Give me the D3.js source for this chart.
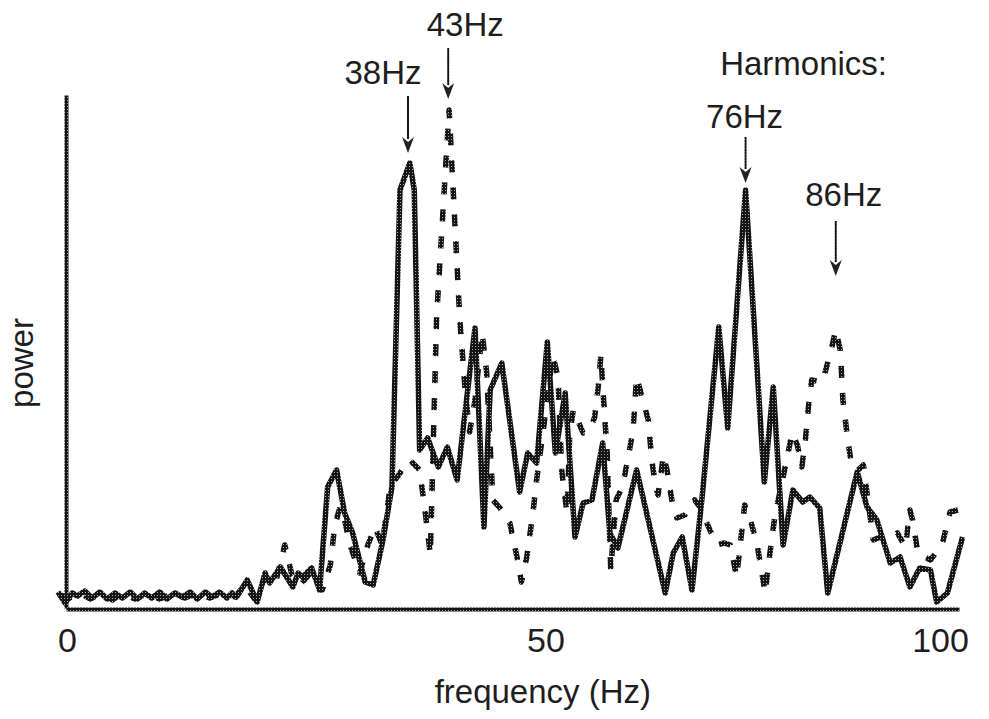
<!DOCTYPE html>
<html>
<head>
<meta charset="utf-8">
<script src="https://cdn.jsdelivr.net/npm/d3@7"></script>
<style>
  body { margin: 0; background: #fff; }
  svg { display: block; }
  text { font-family: "Liberation Sans", Arial, Helvetica, sans-serif; fill: #1e1e1e; }
</style>
</head>
<body>
<svg id="chart" width="989" height="719"></svg>
<script>
// spectrum: frequency (Hz) and power (arbitrary units)
let solidFreq = [
    -0.9, -0.1, 0.7, 1.3, 2.1, 2.9, 3.8, 4.6, 5.5, 6.3,
    7.2, 8.0, 8.8, 9.6, 10.5, 11.3, 12.2, 13.0, 13.9, 14.7,
    15.6, 16.3, 17.2, 18.0, 18.6, 19.1, 20.3, 21.4, 22.3, 22.8,
    24.0, 25.4, 26.0, 26.5, 27.5, 28.4, 29.3, 30.3, 31.2, 32.1,
    33.5, 34.4, 35.5, 36.5, 37.4, 38.5, 39.0, 39.6, 40.5, 41.7,
    42.7, 43.8, 45.8, 46.8, 47.5, 48.8, 50.8, 51.7, 52.7, 53.9,
    54.8, 55.9, 57.0, 57.9, 58.9, 60.1, 60.9, 61.8, 63.9, 67.1,
    68.0, 69.0, 70.1, 71.2, 73.1, 74.1, 76.1, 78.2, 79.2, 80.3,
    81.4, 82.5, 83.3, 84.4, 85.3, 88.6, 89.7, 90.8, 92.3, 93.4,
    94.5, 95.6, 96.8, 97.5, 98.7, 100.4
];
let solidPower = [
    3.2, 1.0, 3.0, 2.4, 3.4, 2.0, 3.2, 1.8, 3.0, 2.0,
    3.2, 1.8, 3.0, 2.0, 3.2, 1.8, 3.0, 2.2, 3.2, 1.8,
    3.2, 2.2, 3.2, 2.0, 3.0, 2.2, 5.6, 1.2, 7.0, 5.0,
    8.2, 4.2, 7.0, 6.2, 8.0, 3.6, 24.2, 27.6, 19.0, 15.0,
    5.2, 4.6, 13.6, 24.2, 83.6, 89.0, 83.6, 31.6, 34.0, 28.2,
    32.2, 25.6, 56.0, 16.2, 43.6, 49.0, 23.2, 31.0, 29.0, 53.2,
    31.0, 43.0, 14.2, 21.0, 21.6, 33.0, 15.0, 12.0, 27.6, 3.0,
    11.0, 14.2, 3.6, 21.6, 56.2, 36.0, 83.6, 25.2, 44.2, 12.6,
    23.6, 21.2, 22.2, 20.0, 3.0, 27.2, 20.2, 17.6, 9.0, 10.2,
    4.2, 8.0, 7.6, 1.2, 3.0, 14.2
];

let dashFreq = [
    -0.7, 0.4, 1.6, 2.7, 3.8, 5.2, 6.3, 7.7, 9.2, 10.5,
    11.9, 13.3, 14.8, 16.1, 17.5, 18.9, 20.0, 21.2, 22.3, 23.4,
    24.5, 25.3, 26.2, 27.5, 28.7, 29.6, 30.1, 30.7, 31.2, 31.8,
    32.9, 33.8, 34.6, 35.4, 36.3, 37.4, 38.5, 39.6, 40.2, 40.8,
    41.5, 42.9, 44.1, 44.7, 45.2, 45.8, 46.6, 47.1, 47.8, 48.6,
    49.7, 50.5, 51.0, 51.6, 52.3, 52.7, 53.6, 54.5, 55.1, 55.5,
    56.1, 56.4, 56.8, 57.3, 57.9, 58.7, 59.2, 59.6, 59.9, 60.2,
    60.6, 61.0, 61.6, 62.3, 62.9, 63.5, 63.9, 64.5, 65.2, 65.6,
    66.0, 66.3, 66.9, 67.3, 67.9, 68.4, 69.3, 70.4, 71.0, 72.1,
    72.9, 73.7, 74.4, 75.1, 75.5, 76.0, 76.8, 77.4, 78.3, 78.8,
    79.4, 80.0, 80.7, 81.3, 81.9, 82.4, 82.8, 83.1, 83.5, 84.7,
    85.6, 86.2, 86.7, 87.0, 87.5, 88.0, 88.7, 89.3, 89.8, 90.4,
    91.2, 92.3, 93.1, 94.0, 94.5, 94.8, 95.4, 96.8, 98.1, 99.0,
    99.9, 100.7
];
let dashPower = [
    2.6, 2.0, 3.0, 1.8, 2.8, 1.6, 3.0, 1.8, 2.8, 1.8,
    2.8, 2.0, 3.0, 2.0, 3.0, 2.2, 4.6, 1.6, 6.2, 4.6,
    12.6, 6.6, 4.6, 7.2, 3.6, 8.6, 16.6, 20.2, 17.6, 12.6,
    7.0, 12.6, 16.2, 12.6, 24.2, 27.0, 29.6, 27.6, 19.6, 10.6,
    58.2, 99.6, 57.6, 43.6, 35.2, 41.6, 55.0, 47.2, 21.6, 20.0,
    17.0, 10.2, 5.2, 10.2, 19.2, 25.6, 37.6, 50.6, 46.2, 27.6,
    19.0, 34.2, 39.6, 37.6, 35.0, 35.6, 38.2, 44.2, 50.6, 41.6,
    31.0, 7.6, 21.6, 24.2, 29.6, 35.6, 46.2, 42.2, 37.6, 29.6,
    24.6, 22.6, 30.6, 27.6, 21.0, 18.0, 18.6, 21.6, 20.2, 15.6,
    12.6, 13.0, 12.6, 6.2, 12.6, 20.6, 16.6, 12.6, 3.0, 10.6,
    18.6, 23.6, 29.6, 35.0, 32.6, 28.2, 33.6, 39.6, 45.6, 45.2,
    51.0, 55.6, 51.6, 41.6, 34.2, 28.2, 27.6, 28.6, 21.6, 13.6,
    14.2, 14.2, 15.0, 12.2, 19.6, 17.6, 11.0, 9.6, 12.6, 19.2,
    19.6, 20.6
];

let xTicks = [0, 50, 100];

// arrows: label, frequency pointed at, power at the arrow tip
let peakLabels = ["38Hz", "43Hz", "76Hz", "86Hz"];
let peakFreqs = [38.3, 42.8, 76.1, 86.2];
let peakTips = [91.0, 101.8, 85.0, 66.4];

let margin = {top: 95, right: 30, bottom: 111, left: 66};
let W = 989, H = 719;

let svg = d3.select("#chart");

// stippled ink like the scanned figure
let pat = svg.append("defs").append("pattern")
    .attr("id", "stipple")
    .attr("patternUnits", "userSpaceOnUse")
    .attr("width", 3).attr("height", 3);
pat.append("rect").attr("width", 3).attr("height", 3).attr("fill", "#151515");
pat.append("rect").attr("x", 1).attr("y", 1).attr("width", 1).attr("height", 1).attr("fill", "#a8a8a8");

let x = d3.scaleLinear()
    .domain([0, 100])
    .range([margin.left, W - margin.right]);

let y = d3.scaleLinear()
    .domain([0, 102.6])
    .range([H - margin.bottom, margin.top]);

let line = d3.line()
    .x(d => x(d[0]))
    .y(d => y(d[1]));

let solid = d3.zip(solidFreq, solidPower);
let dashed = d3.zip(dashFreq, dashPower);

// axes: plain lines, no tick marks
let xAxis = svg.append("g")
    .attr("transform", `translate(0,${y(0) + 1})`)
    .call(d3.axisBottom(x).tickValues(xTicks).tickSize(0).tickPadding(19).tickFormat(d3.format("d")));

let yAxis = svg.append("g")
    .attr("transform", `translate(${x(0)},0)`)
    .call(d3.axisLeft(y).tickValues([]).tickSizeOuter(0));

svg.selectAll(".domain")
    .attr("stroke", "url(#stipple)")
    .attr("stroke-width", 4);

// tick labels were hand placed in the original
let tickNudge = {0: 1, 50: 33, 100: -19};
xAxis.selectAll(".tick text")
    .attr("font-size", 34)
    .attr("font-family", null)
    .attr("dx", d => tickNudge[d]);

svg.append("text")
    .attr("x", x(53.4))
    .attr("y", 703)
    .attr("text-anchor", "middle")
    .attr("font-size", 33)
    .text("frequency (Hz)");

svg.append("text")
    .attr("transform", `translate(33,${y(49)}) rotate(-90)`)
    .attr("text-anchor", "middle")
    .attr("font-size", 33)
    .text("power");

// the two spectra
svg.append("path")
    .datum(dashed)
    .attr("fill", "none")
    .attr("stroke", "url(#stipple)")
    .attr("stroke-width", 5.5)
    .attr("stroke-dasharray", "12,15")
    .attr("stroke-linejoin", "round")
    .attr("d", line);

svg.append("path")
    .datum(solid)
    .attr("fill", "none")
    .attr("stroke", "url(#stipple)")
    .attr("stroke-width", 5.5)
    .attr("stroke-linejoin", "round")
    .attr("d", line);

// peak arrows + labels (lengths and offsets as hand drawn in the figure)
let labelDx = [-25, 17, -1, 8];
let arrowLen = [57, 51, 46, 55];
let labelGap = [12, 12, 9, 15];
let head = 16;

let ann = svg.append("g").attr("class", "peaks")
    .selectAll("g")
    .data(peakLabels)
    .join("g")
    .attr("transform", (d, i) => `translate(${x(peakFreqs[i])},${y(peakTips[i])})`);

ann.append("line")
    .attr("x1", 0).attr("x2", 0)
    .attr("y1", (d, i) => -arrowLen[i]).attr("y2", -head + 2)
    .attr("stroke", "url(#stipple)")
    .attr("stroke-width", 2);

ann.append("path")
    .attr("d", `M0,0 L-6,${-head} L0,${-head + 5} L6,${-head} Z`)
    .attr("fill", "#222");

ann.append("text")
    .attr("x", (d, i) => labelDx[i])
    .attr("y", (d, i) => -arrowLen[i] - labelGap[i])
    .attr("text-anchor", "middle")
    .attr("font-size", 33)
    .text(d => d);

svg.append("text")
    .attr("x", x(82.6))
    .attr("y", y(peakTips[2]) - arrowLen[2] - labelGap[2] - 53)
    .attr("text-anchor", "middle")
    .attr("font-size", 33)
    .text("Harmonics:");
</script>
</body>
</html>
